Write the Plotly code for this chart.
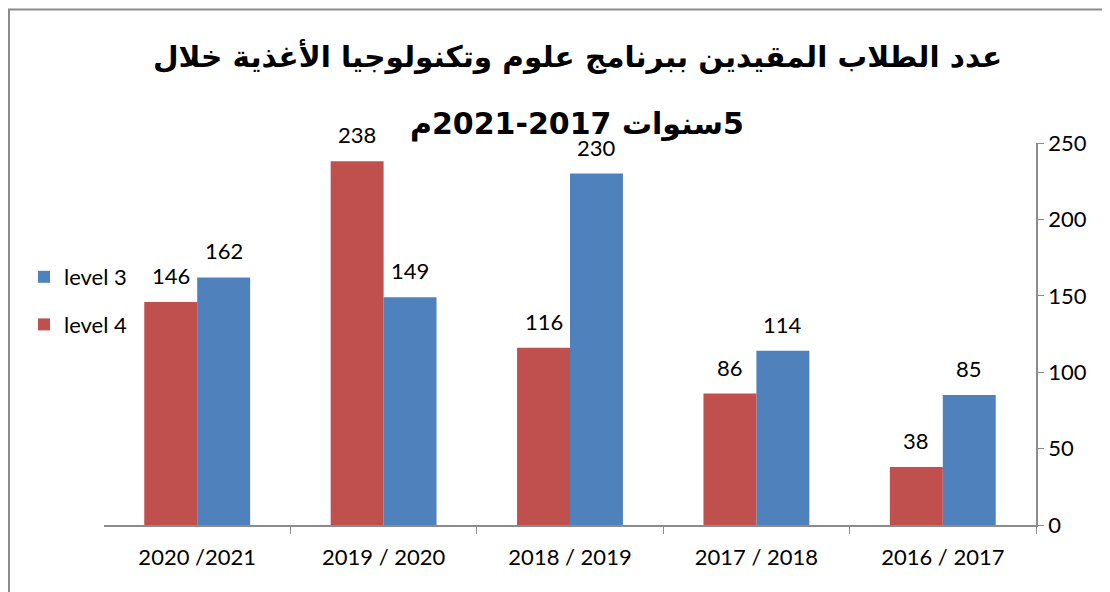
import plotly.graph_objects as go

# ---- data ----
categories = ["2016 / 2017", "2017 / 2018", "2018 / 2019", "2019 / 2020", "2020 /2021"]
level3 = [85, 114, 230, 149, 162]
level4 = [38, 86, 116, 238, 146]
series_names = ["level 3", "level 4"]
title_line1 = "عدد الطلاب المقيدين ببرنامج علوم وتكنولوجيا الأغذية خلال"
title_line2 = "5سنوات 2017-2021م"
y_ticks = [0, 50, 100, 150, 200, 250]

BLUE = "#4F81BD"
RED = "#C0504D"
GRAY = "#8C8C8C"
NUM_FONT = "Lato, Carlito, Calibri, sans-serif"
AR_FONT = "DejaVu Sans"

# the page body has an 8px margin; lay the figure out in window pixels
OFF = 8
W, H = 1110 - OFF, 592 - OFF
PL, PR, PT, PB = 104, 1036, 143, 525          # plot box in window pixels
ML, MR, MT, MB = PL - OFF, (W + OFF) - PR, PT - OFF, (H + OFF) - PB
PW = PR - PL
PH = PB - PT

fig = go.Figure()
fig.add_bar(x=categories, y=level3, name=series_names[0], marker_color=BLUE,
            marker_line_width=0, legendgroup="g3")
fig.add_bar(x=categories, y=level4, name=series_names[1], marker_color=RED,
            marker_line_width=0, legendgroup="g4")

# data labels
cat_w = PW / len(categories)
bar_w = cat_w * (1 - 0.432) / 2
annots = []
for vals, shift in ((level3, bar_w / 2), (level4, -bar_w / 2)):
    for c, v in zip(categories, vals):
        annots.append(dict(x=c, y=v, xref="x", yref="y", text=str(v), showarrow=False,
                           xshift=shift, yshift=11, yanchor="bottom",
                           font=dict(family=NUM_FONT, size=22, color="#000")))

def px_to_paper_x(px):
    return (px - PL) / PW

def px_to_paper_y(py):
    return (PB - py) / PH

# title
annots.append(dict(x=px_to_paper_x(577), y=px_to_paper_y(57), xref="paper", yref="paper",
                   text="<b>" + title_line1 + "</b>", showarrow=False,
                   xanchor="center", yanchor="middle",
                   font=dict(family=AR_FONT, size=29.5, color="#000")))
annots.append(dict(x=px_to_paper_x(577), y=px_to_paper_y(124), xref="paper", yref="paper",
                   text="<b>\u200f" + title_line2 + "</b>", showarrow=False,
                   xanchor="center", yanchor="middle",
                   font=dict(family=AR_FONT, size=30, color="#000")))

fig.update_layout(
    width=W, height=H,
    margin=dict(l=ML, r=MR, t=MT, b=MB, pad=0, autoexpand=False),
    paper_bgcolor="white", plot_bgcolor="white",
    barmode="group", bargap=0.432, bargroupgap=0,
    showlegend=True,
    legend=dict(x=px_to_paper_x(24), y=px_to_paper_y(256), xanchor="left", yanchor="top",
                font=dict(family=NUM_FONT, size=22, color="#000"),
                tracegroupgap=16, bgcolor="rgba(0,0,0,0)"),
    annotations=annots,
    shapes=[
        dict(type="line", xref="paper", yref="paper",
             x0=px_to_paper_x(9), x1=px_to_paper_x(9),
             y0=px_to_paper_y(9), y1=px_to_paper_y(600),
             line=dict(color=GRAY, width=2)),
        dict(type="line", xref="paper", yref="paper",
             x0=px_to_paper_x(8), x1=px_to_paper_x(1115),
             y0=px_to_paper_y(9.5), y1=px_to_paper_y(9.5),
             line=dict(color=GRAY, width=2)),
    ],
)
fig.update_xaxes(autorange="reversed", showline=True, linecolor=GRAY, linewidth=1.5,
                 ticks="outside", tickson="boundaries", ticklen=7, tickcolor=GRAY,
                 showgrid=False, tickangle=0, automargin=False, ticklabelstandoff=12,
                 tickfont=dict(family=NUM_FONT, size=22, color="#000"))
fig.update_yaxes(side="right", range=[0, 250], tickvals=y_ticks, showline=True,
                 linecolor=GRAY, linewidth=1.5, ticks="outside", ticklen=6, tickcolor=GRAY,
                 showgrid=False, zeroline=False, automargin=False,
                 tickfont=dict(family=NUM_FONT, size=22, color="#000"))

fig.write_html("out.html")
